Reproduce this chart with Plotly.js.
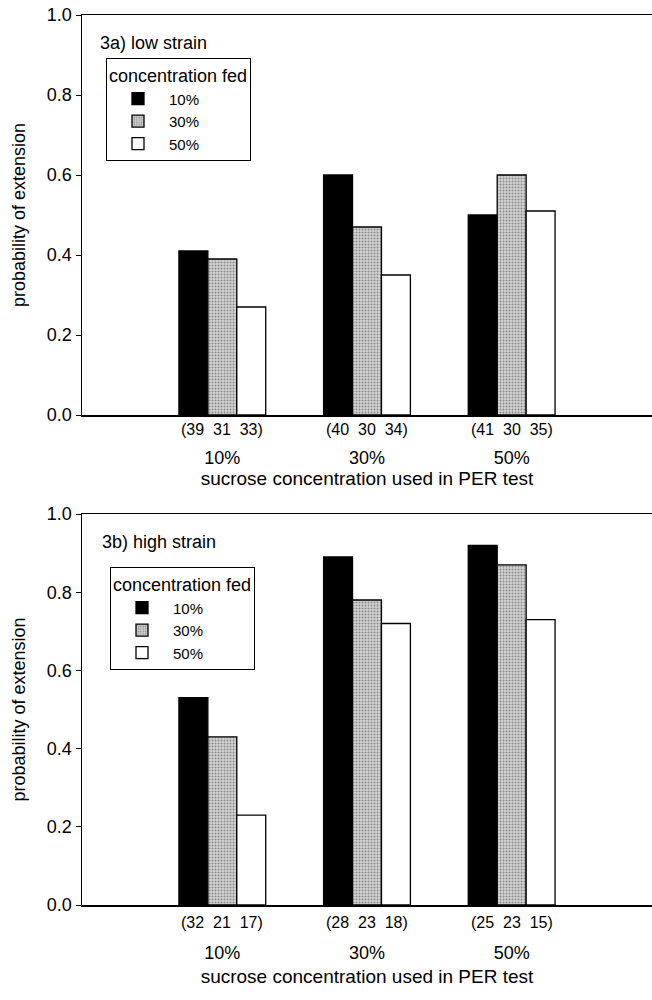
<!DOCTYPE html>
<html>
<head>
<meta charset="utf-8">
<script src="https://cdn.plot.ly/plotly-3.0.1.min.js"></script>
<style>html,body{margin:0;padding:0;background:#fff;}</style>
</head>
<body>
<div id="chart" style="width:652px;height:1000px;"></div>
<script>
// ---- data ----
const testConcentrations = ["10%", "30%", "50%"];
const fedLabels = ["10%", "30%", "50%"];
// panel a: low strain
const lowFed10 = [0.41, 0.60, 0.50];
const lowFed30 = [0.39, 0.47, 0.60];
const lowFed50 = [0.27, 0.35, 0.51];
const lowN = ["(39\u00a0\u00a031\u00a0\u00a033)", "(40\u00a0\u00a030\u00a0\u00a034)", "(41\u00a0\u00a030\u00a0\u00a035)"];
// panel b: high strain
const highFed10 = [0.53, 0.89, 0.92];
const highFed30 = [0.43, 0.78, 0.87];
const highFed50 = [0.23, 0.72, 0.73];
const highN = ["(32\u00a0\u00a021\u00a0\u00a017)", "(28\u00a0\u00a023\u00a0\u00a018)", "(25\u00a0\u00a023\u00a0\u00a015)"];
const yTicks = [0, 0.2, 0.4, 0.6, 0.8, 1.0];
const yTickText = ["0.0", "0.2", "0.4", "0.6", "0.8", "1.0"];

const FONT = "Liberation Sans, Arial, Helvetica, sans-serif";
const xIdx = [0, 1, 2];

const styles = [
  {color: "#000000"},
  {color: "#c9c9c9", pattern: {shape: ".", bgcolor: "#d4d4d4", fgcolor: "#8a8a8a", size: 3, solidity: 0.35}},
  {color: "#ffffff"}
];

function makeTraces(series, xa, ya, legendId) {
  return series.map((vals, i) => {
    const m = {color: styles[i].color, line: {color: "#000", width: 1.3}};
    if (styles[i].pattern) m.pattern = styles[i].pattern;
    return {
      type: "bar", x: xIdx, y: vals, name: fedLabels[i],
      xaxis: xa, yaxis: ya, legend: legendId, marker: m,
      hoverinfo: "skip"
    };
  });
}

const traces = [
  ...makeTraces([lowFed10, lowFed30, lowFed50], "x", "y", "legend"),
  ...makeTraces([highFed10, highFed30, highFed50], "x2", "y2", "legend2")
];

function xAxis(anchor, standoff, titleStandoff) {
  return {
    anchor: anchor, domain: [0, 1], range: [-0.97, 2.97],
    tickvals: xIdx, ticktext: testConcentrations, ticks: "",
    ticklabelstandoff: standoff,
    showline: true, linecolor: "#000", linewidth: 1.5, mirror: true,
    showgrid: false, zeroline: false,
    tickfont: {family: FONT, size: 18, color: "#000"},
    title: {text: "sucrose concentration used in PER test", font: {family: FONT, size: 19, color: "#000"}, standoff: titleStandoff}
  };
}
function yAxis(anchor, domain) {
  return {
    anchor: anchor, domain: domain, range: [0, 1],
    tickvals: yTicks, ticktext: yTickText, ticks: "outside", ticklen: 5, tickwidth: 1, tickcolor: "#000",
    showline: true, linecolor: "#000", linewidth: 1.5, mirror: false,
    showgrid: false, zeroline: false,
    tickfont: {family: FONT, size: 18, color: "#000"},
    title: {text: "probability of extension", font: {family: FONT, size: 18, color: "#000"}, standoff: 16}
  };
}

const PLOT_L = 82, PLOT_W = 570;
const px = v => (v - PLOT_L) / PLOT_W;

const annotations = [];
xIdx.forEach((xi, i) => {
  annotations.push({x: xi, xref: "x", y: 1 - 430/1000, yref: "paper", text: lowN[i], showarrow: false,
    font: {family: FONT, size: 16, color: "#000"}, xanchor: "center", yanchor: "middle"});
  annotations.push({x: xi, xref: "x2", y: 1 - 922/1000, yref: "paper", text: highN[i], showarrow: false,
    font: {family: FONT, size: 16, color: "#000"}, xanchor: "center", yanchor: "middle"});
});
annotations.push({x: px(98), xref: "paper", y: 1 - 43/1000, yref: "paper", text: "3a) low strain", showarrow: false,
  font: {family: FONT, size: 18, color: "#000"}, xanchor: "left", yanchor: "middle"});
annotations.push({x: px(100), xref: "paper", y: 1 - 542/1000, yref: "paper", text: "3b) high strain", showarrow: false,
  font: {family: FONT, size: 18, color: "#000"}, xanchor: "left", yanchor: "middle"});

function legendCfg(x, y) {
  return {
    x: x, y: y, xanchor: "left", yanchor: "top",
    bordercolor: "#000", borderwidth: 1, bgcolor: "#fff",
    font: {family: FONT, size: 15, color: "#000"},
    title: {text: "concentration fed", font: {family: FONT, size: 18, color: "#000"}},
    itemwidth: 52, traceorder: "normal"
  };
}

const layout = {
  width: 652, height: 1000,
  margin: {l: PLOT_L, r: 0, t: 0, b: 0},
  paper_bgcolor: "#fff", plot_bgcolor: "#fff",
  barmode: "group", bargap: 0.4, bargroupgap: 0,
  font: {family: FONT, size: 18, color: "#000"},
  xaxis: xAxis("y", 26, 4),
  yaxis: yAxis("x", [1 - 415/1000, 1 - 15/1000]),
  xaxis2: xAxis("y2", 31, 7),
  yaxis2: yAxis("x2", [1 - 905/1000, 1 - 514/1000]),
  legend: legendCfg(px(106), 1 - 58/1000),
  legend2: legendCfg(px(110), 1 - 567/1000),
  showlegend: true,
  annotations: annotations
};

Plotly.newPlot("chart", traces, layout, {displayModeBar: false, staticPlot: true});
</script>
</body>
</html>
